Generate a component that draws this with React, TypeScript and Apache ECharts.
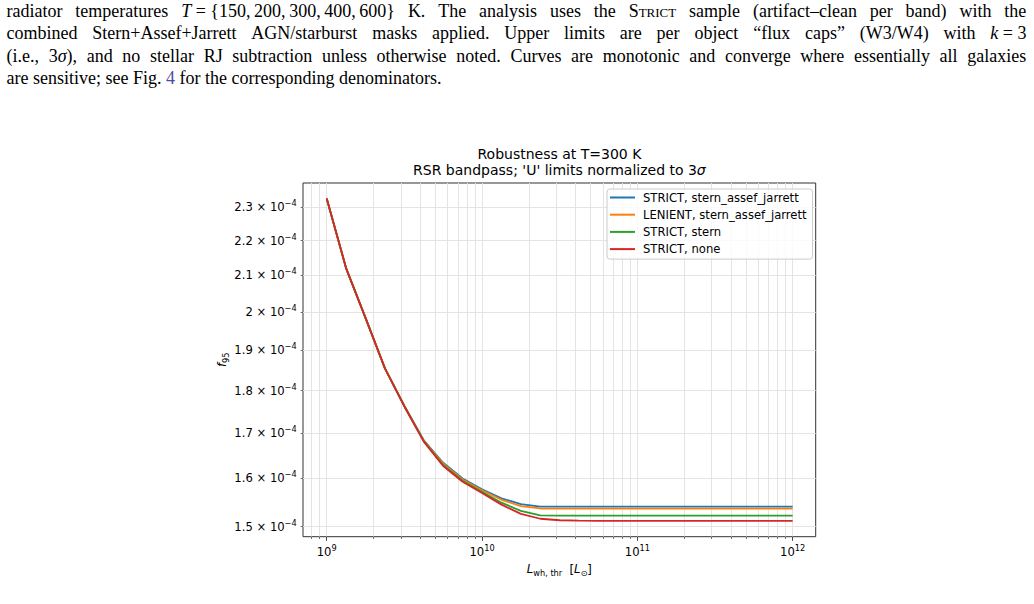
import React, { useEffect, useRef } from "react";
import * as echarts from "echarts";

// ---------------- data ----------------
const LWH_THR = [
  1.0e9, 1.334e9, 1.778e9, 2.371e9, 3.162e9, 4.217e9, 5.623e9, 7.499e9,
  1.0e10, 1.334e10, 1.778e10, 2.371e10, 3.162e10, 4.217e10, 5.623e10, 7.499e10,
  1.0e11, 1.334e11, 1.778e11, 2.371e11, 3.162e11, 4.217e11, 5.623e11, 7.499e11,
  1.0e12,
];

const STRICT_SAJ = [
  2.328e-4, 2.12e-4, 1.984e-4, 1.854e-4, 1.763e-4, 1.684e-4, 1.634e-4, 1.6e-4,
  1.577e-4, 1.558e-4, 1.546e-4, 1.541e-4, 1.5407e-4, 1.5407e-4, 1.5407e-4, 1.5407e-4,
  1.5407e-4, 1.5407e-4, 1.5407e-4, 1.5407e-4, 1.5407e-4, 1.5407e-4, 1.5407e-4, 1.5407e-4,
  1.5407e-4,
];
const LENIENT_SAJ = [
  2.328e-4, 2.12e-4, 1.984e-4, 1.854e-4, 1.763e-4, 1.683e-4, 1.632e-4, 1.598e-4,
  1.575e-4, 1.555e-4, 1.542e-4, 1.537e-4, 1.5366e-4, 1.5366e-4, 1.5366e-4, 1.5366e-4,
  1.5366e-4, 1.5366e-4, 1.5366e-4, 1.5366e-4, 1.5366e-4, 1.5366e-4, 1.5366e-4, 1.5366e-4,
  1.5366e-4,
];
const STRICT_STERN = [
  2.328e-4, 2.12e-4, 1.984e-4, 1.854e-4, 1.763e-4, 1.682e-4, 1.629e-4, 1.595e-4,
  1.572e-4, 1.549e-4, 1.532e-4, 1.523e-4, 1.5223e-4, 1.5223e-4, 1.5223e-4, 1.5223e-4,
  1.5223e-4, 1.5223e-4, 1.5223e-4, 1.5223e-4, 1.5223e-4, 1.5223e-4, 1.5223e-4, 1.5223e-4,
  1.5223e-4,
];
const STRICT_NONE = [
  2.328e-4, 2.12e-4, 1.984e-4, 1.854e-4, 1.762e-4, 1.681e-4, 1.627e-4, 1.593e-4,
  1.569e-4, 1.545e-4, 1.526e-4, 1.516e-4, 1.513e-4, 1.5121e-4, 1.5117e-4, 1.5117e-4,
  1.5117e-4, 1.5117e-4, 1.5117e-4, 1.5117e-4, 1.5117e-4, 1.5117e-4, 1.5117e-4, 1.5117e-4,
  1.5117e-4,
];

const SERIES_NAMES = [
  "STRICT, stern_assef_jarrett",
  "LENIENT, stern_assef_jarrett",
  "STRICT, stern",
  "STRICT, none",
];
const SERIES_COLORS = ["#1f77b4", "#ff7f0e", "#2ca02c", "#d62728"];

const X_LIM = [7.038e8, 1.4066e12];
const Y_LIM = [1.48e-4, 2.3766e-4];

const X_MAJOR_TICKS = [1e9, 1e10, 1e11, 1e12];
const X_MAJOR_LABELS = ["9", "10", "11", "12"];
const X_MINOR_TICKS = [
  8e8, 9e8,
  2e9, 3e9, 4e9, 5e9, 6e9, 7e9, 8e9, 9e9,
  2e10, 3e10, 4e10, 5e10, 6e10, 7e10, 8e10, 9e10,
  2e11, 3e11, 4e11, 5e11, 6e11, 7e11, 8e11, 9e11,
];
const Y_TICKS = [1.5e-4, 1.6e-4, 1.7e-4, 1.8e-4, 1.9e-4, 2.0e-4, 2.1e-4, 2.2e-4, 2.3e-4];
const Y_TICK_LABELS = ["1.5", "1.6", "1.7", "1.8", "1.9", "2", "2.1", "2.2", "2.3"];

// ---------------- styling ----------------
const FONT = "'DejaVu Sans', sans-serif";
const GRID_COLOR = "#e4e4e4";
const TICK_COLOR = "#333";
const TICK_FS = 11.6;
const lg = (v: number) => Math.log10(v);

const findIdx = (arr: number[], v: number) => {
  let best = 0;
  for (let i = 0; i < arr.length; i++) {
    if (Math.abs(lg(arr[i]) - v) < Math.abs(lg(arr[best]) - v)) best = i;
  }
  return best;
};

const richTick = {
  m: { fontFamily: FONT, fontSize: TICK_FS, color: "#000", lineHeight: 16 },
  e: { fontFamily: FONT, fontSize: 8.2, color: "#000", lineHeight: 9, verticalAlign: "top" },
};

function buildOption() {
  const seriesVals = [STRICT_SAJ, LENIENT_SAJ, STRICT_STERN, STRICT_NONE];
  return {
    animation: false,
    grid: {
      left: 303,
      top: 183,
      width: 512.7,
      height: 353.7,
      show: true,
      borderColor: "#333",
      borderWidth: 1,
      backgroundColor: "transparent",
      containLabel: false,
      outerBoundsMode: "none",
    },
    graphic: [
      {
        type: "text",
        x: 559.4,
        y: 154,
        style: {
          text: "Robustness at T=300 K",
          fontFamily: FONT,
          fontSize: 14,
          fill: "#000",
          textAlign: "center",
          textVerticalAlign: "middle",
        },
      },
      {
        type: "text",
        x: 559.4,
        y: 169.5,
        style: {
          text: "RSR bandpass; 'U' limits normalized to 3{i|σ}",
          fontFamily: FONT,
          fontSize: 14,
          fill: "#000",
          textAlign: "center",
          textVerticalAlign: "middle",
          rich: {
            i: { fontFamily: FONT, fontSize: 14, fontStyle: "italic", fill: "#000" },
          },
        },
      },
    ],
    legend: {
      orient: "vertical",
      left: 607,
      top: 189,
      icon: "rect",
      itemWidth: 25,
      itemHeight: 2,
      itemGap: 3.2,
      padding: [1.5, 6, 3, 3],
      backgroundColor: "rgba(255,255,255,0.8)",
      borderColor: "#cccccc",
      borderWidth: 1,
      borderRadius: 3,
      data: SERIES_NAMES,
      textStyle: {
        fontFamily: FONT,
        fontSize: TICK_FS,
        color: "#000",
        lineHeight: 14,
        padding: [0, 0, 0, 3],
      },
    },
    xAxis: [
      {
        type: "value",
        position: "bottom",
        min: lg(X_LIM[0]),
        max: lg(X_LIM[1]),
        axisLine: { show: false, onZero: false },
        axisTick: {
          show: true,
          customValues: X_MAJOR_TICKS.map(lg),
          length: 4.1,
          lineStyle: { color: TICK_COLOR, width: 0.9 },
        },
        axisLabel: {
          show: true,
          customValues: X_MAJOR_TICKS.map(lg),
          margin: 7,
          formatter: (v: number) => {
            const i = findIdx(X_MAJOR_TICKS, v);
            return `{m|10}{e|${X_MAJOR_LABELS[i]}}`;
          },
          rich: richTick,
        },
        splitLine: { show: true, lineStyle: { color: GRID_COLOR, width: 1 } },
        name: "{L|L}{s|wh, thr}  {b|[}{L|L}{s|⊙}{b|]}",
        nameLocation: "middle",
        nameGap: 23,
        nameTextStyle: {
          fontFamily: FONT,
          fontSize: TICK_FS,
          color: "#000",
          rich: {
            L: { fontFamily: FONT, fontSize: TICK_FS, fontStyle: "italic", color: "#000", lineHeight: 16 },
            b: { fontFamily: FONT, fontSize: TICK_FS, color: "#000", lineHeight: 16 },
            s: { fontFamily: FONT, fontSize: 8.2, color: "#000", lineHeight: 10, verticalAlign: "bottom" },
          },
        },
      },
      {
        type: "value",
        position: "bottom",
        min: lg(X_LIM[0]),
        max: lg(X_LIM[1]),
        axisLine: { show: false, onZero: false },
        axisTick: {
          show: true,
          customValues: X_MINOR_TICKS.map(lg),
          length: 2.3,
          lineStyle: { color: TICK_COLOR, width: 0.7 },
        },
        axisLabel: { show: false },
        splitLine: { show: true, lineStyle: { color: GRID_COLOR, width: 1 } },
      },
    ],
    yAxis: {
      type: "value",
      min: lg(Y_LIM[0]),
      max: lg(Y_LIM[1]),
      axisLine: { show: false, onZero: false },
      axisTick: {
        show: true,
        customValues: Y_TICKS.map(lg),
        length: 2.3,
        lineStyle: { color: TICK_COLOR, width: 0.7 },
      },
      axisLabel: {
        show: true,
        customValues: Y_TICKS.map(lg),
        margin: 6.3,
        formatter: (v: number) => {
          const i = findIdx(Y_TICKS, v);
          return `{m|${Y_TICK_LABELS[i]} × 10}{e|−4}`;
        },
        rich: richTick,
      },
      splitLine: { show: true, lineStyle: { color: GRID_COLOR, width: 1 } },
      name: "{i|f}{s|95}",
      nameLocation: "middle",
      nameRotate: 90,
      nameGap: 71,
      nameTextStyle: {
        fontFamily: FONT,
        fontSize: TICK_FS,
        color: "#000",
        rich: {
          i: { fontFamily: FONT, fontSize: TICK_FS, fontStyle: "italic", color: "#000", lineHeight: 16 },
          s: { fontFamily: FONT, fontSize: 8.2, color: "#000", lineHeight: 10, verticalAlign: "bottom" },
        },
      },
    },
    series: SERIES_NAMES.map((name, k) => ({
      name,
      type: "line",
      xAxisIndex: 0,
      yAxisIndex: 0,
      showSymbol: false,
      symbol: "none",
      color: SERIES_COLORS[k],
      lineStyle: { color: SERIES_COLORS[k], width: 1.8 },
      data: LWH_THR.map((x, i) => [lg(x), lg(seriesVals[k][i])]),
      z: 2 + k,
    })),
  };
}

// ---------------- paragraph text ----------------
const SERIF = "'Liberation Serif', 'Times New Roman', serif";
const SC = (t: string) => <span style={{ fontVariant: "small-caps" }}>{t}</span>;
const I = (t: string) => <span style={{ fontStyle: "italic" }}>{t}</span>;

const LINE1: React.ReactNode[] = [
  "radiator",
  "temperatures",
  <span>{I("T")}{"\u00a0=\u00a0{150,\u2009200,\u2009300,\u2009400,\u2009600}"}</span>,
  "K.",
  "The",
  "analysis",
  "uses",
  "the",
  SC("Strict"),
  "sample",
  "(artifact–clean",
  "per",
  "band)",
  "with",
  "the",
];
const LINE2: React.ReactNode[] = [
  "combined",
  "Stern+Assef+Jarrett",
  "AGN/starburst",
  "masks",
  "applied.",
  "Upper",
  "limits",
  "are",
  "per",
  "object",
  "“flux",
  "caps”",
  "(W3/W4)",
  "with",
  <span>{I("k")}{"\u00a0=\u00a03"}</span>,
];
const LINE3: React.ReactNode[] = [
  "(i.e.,",
  <span>3{I("σ")}),</span>,
  "and",
  "no",
  "stellar",
  "RJ",
  "subtraction",
  "unless",
  "otherwise",
  "noted.",
  "Curves",
  "are",
  "monotonic",
  "and",
  "converge",
  "where",
  "essentially",
  "all",
  "galaxies",
];

const lineStyle = (top: number): React.CSSProperties => ({
  position: "absolute",
  left: 6.5,
  width: 1020,
  top,
  height: 22,
  lineHeight: "22px",
  fontFamily: SERIF,
  fontSize: 18,
  color: "#000",
  display: "flex",
  justifyContent: "space-between",
  whiteSpace: "nowrap",
});

export default function App() {
  const ref = useRef<HTMLDivElement>(null);
  useEffect(() => {
    if (!ref.current) return;
    const chart = echarts.init(ref.current, undefined, { renderer: "svg" });
    chart.setOption(buildOption() as any);
    return () => chart.dispose();
  }, []);
  return (
    <div
      style={{
        position: "absolute",
        left: 0,
        top: 0,
        width: 1034,
        height: 604,
        background: "#fff",
        overflow: "hidden",
      }}
    >
      <div style={lineStyle(-0.4)}>
        {LINE1.map((w, i) => (
          <span key={i}>{w}</span>
        ))}
      </div>
      <div style={lineStyle(22.2)}>
        {LINE2.map((w, i) => (
          <span key={i}>{w}</span>
        ))}
      </div>
      <div style={lineStyle(44.6)}>
        {LINE3.map((w, i) => (
          <span key={i}>{w}</span>
        ))}
      </div>
      <div style={{ ...lineStyle(66.9), display: "block" }}>
        are sensitive; see Fig. <span style={{ color: "#4b4ba8" }}>4</span> for the corresponding
        denominators.
      </div>
      <div
        ref={ref}
        style={{ position: "absolute", left: 0, top: 0, width: 1034, height: 604 }}
      />
    </div>
  );
}
